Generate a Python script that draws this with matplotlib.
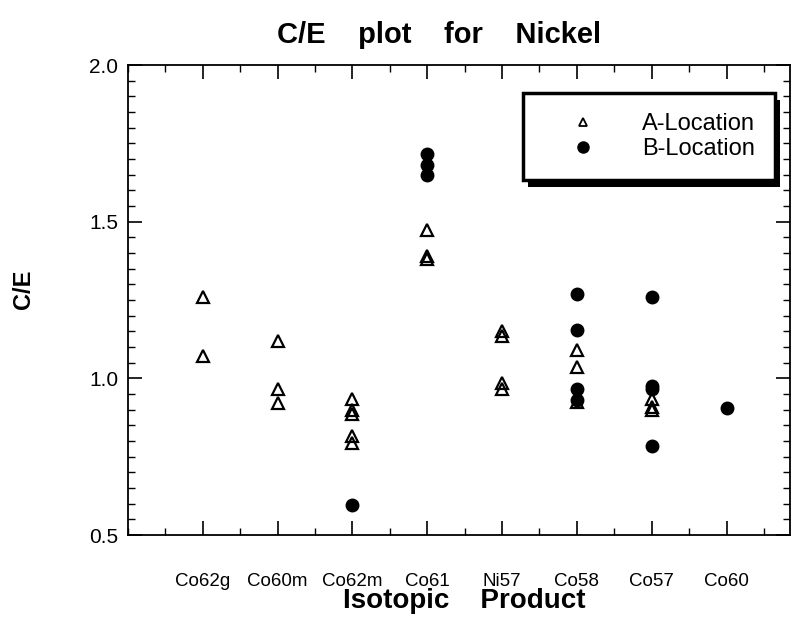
import numpy as np
import matplotlib
matplotlib.use('Agg')
import matplotlib.pyplot as plt
import matplotlib.patheffects as pe
from matplotlib.ticker import MultipleLocator

# isotopic products on the x axis
categories = ['Co62g', 'Co60m', 'Co62m', 'Co61', 'Ni57', 'Co58', 'Co57', 'Co60']

# C/E values, one list per product
a_location = [[1.26, 1.07],
              [1.12, 0.965, 0.92],
              [0.935, 0.90, 0.885, 0.815, 0.795],
              [1.475, 1.39, 1.38],
              [1.15, 1.135, 0.985, 0.965],
              [1.09, 1.035, 0.925],
              [0.935, 0.91, 0.90],
              []]
b_location = [[],
              [],
              [0.595],
              [1.715, 1.68, 1.65],
              [],
              [1.27, 1.155, 0.965, 0.93],
              [1.26, 0.975, 0.965, 0.785],
              [0.905]]

y_ticks = [0.5, 1.0, 1.5, 2.0]
y_ticklabels = ['0.5', '1.0', '1.5', '2.0']

plt.rcParams['font.family'] = ['Liberation Sans', 'DejaVu Sans']

fig = plt.figure(figsize=(7.92, 6.2), dpi=100)
ax = fig.add_axes([0.1616, 0.137, 0.836, 0.758])

pos = np.arange(1, len(categories) + 1)
xa = [p for p, v in zip(pos, a_location) for _ in v]
ya = [y for v in a_location for y in v]
xb = [p for p, v in zip(pos, b_location) for _ in v]
yb = [y for v in b_location for y in v]

ax.plot(xa, ya, ls='none', marker='^', ms=8, mfc='none', mec='k', mew=1.6,
        label='A-Location', zorder=3)
ax.plot(xb, yb, ls='none', marker='o', ms=9, mfc='k', mec='k',
        label='B-Location', zorder=4)

ax.set_xlim(0, 8.85)
ax.set_ylim(0.5, 2.0)
ax.set_xticks(pos)
ax.set_xticklabels(categories)
ax.xaxis.set_minor_locator(MultipleLocator(0.5))
ax.set_yticks(y_ticks)
ax.set_yticklabels(y_ticklabels)
ax.yaxis.set_minor_locator(MultipleLocator(0.05))

ax.tick_params(which='both', direction='in', top=True, right=True)
ax.tick_params(which='major', length=10, width=1.2)
ax.tick_params(which='minor', length=5, width=1)
ax.tick_params(axis='x', which='major', pad=27, labelsize=13.5)
ax.tick_params(axis='y', which='major', pad=7, labelsize=15)
for s in ax.spines.values():
    s.set_linewidth(1.3)

fig.text(0.555, 0.943, 'C/E    plot    for    Nickel', ha='center', va='center',
         fontsize=21, fontweight='bold')
fig.text(0.030, 0.534, 'C/E', rotation=90, ha='center', va='center',
         fontsize=17, fontweight='bold')
fig.text(0.586, 0.030, 'Isotopic    Product', ha='center', va='center',
         fontsize=20, fontweight='bold')

leg = ax.legend(loc='upper right', bbox_to_anchor=(0.977, 0.94), borderaxespad=0,
                fontsize=17, frameon=True, fancybox=False, edgecolor='k',
                framealpha=1, borderpad=0.85, handlelength=3.4,
                handletextpad=0.8, labelspacing=0.12, numpoints=1)
leg.get_frame().set_linewidth(2.5)
leg.get_frame().set_path_effects([
    pe.SimplePatchShadow(offset=(4, -5), shadow_rgbFace='k', alpha=1),
    pe.Normal()])
leg.legend_handles[0].set_markersize(6)
leg.legend_handles[0].set_markeredgewidth(1.3)
leg.legend_handles[1].set_markersize(8)

fig.savefig('out.png', dpi=100)
